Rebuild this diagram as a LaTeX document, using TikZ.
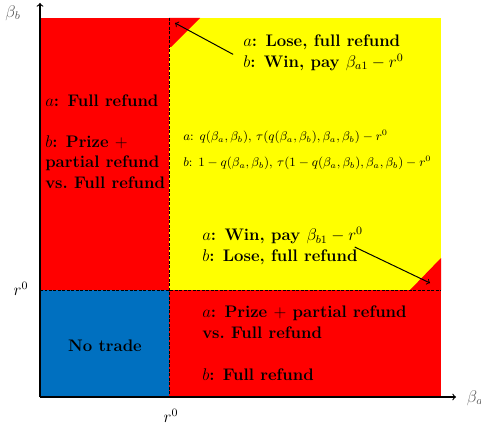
\documentclass[tikz,border=0pt]{standalone}
\usepackage{amsmath,amssymb}
\usepackage{xcolor}
\usepackage{tikz}
\usetikzlibrary{positioning,calc}
\definecolor{RegRed}{HTML}{FF0000}
\definecolor{RegYellow}{HTML}{FFFF00}
\definecolor{RegBlue}{HTML}{0070C0}

\begin{document}
\begin{tikzpicture}[x=0.025cm,y=-0.025cm,
    lbl/.style={font=\fontsize{11.9}{14.6}\selectfont\bfseries,align=left,anchor=west,inner sep=0pt},
    frm/.style={font=\fontsize{9}{18.5}\selectfont,align=left,anchor=west,inner sep=0pt},
    divider/.style={dashed,black,line width=0.4pt,dash pattern=on 2pt off 1.2pt}]
  \useasboundingbox (0,0) rectangle (481,427);
  \begin{scope}
    \fill[RegRed] (40,18) rectangle (169,290);
    \fill[RegYellow] (169,18) rectangle (441,290);
    \fill[RegRed] (169,18) -- (200,18) -- (171,47) -- (169,47) -- cycle;
    \fill[RegRed] (441,258) -- (441,290) -- (410,290) -- cycle;
    \fill[RegBlue] (40,290) rectangle (169,397);
    \fill[RegRed] (169,290) rectangle (441,397);
    \draw[divider] (169,18) -- (169,397);
    \draw[divider] (40,290) -- (441,290);
  \end{scope}
  \draw[->,line width=0.8pt] (40,397) -- (40,3);
  \draw[->,line width=0.8pt] (40,397) -- (456,397);
  \node[font=\large,gray!70!black] (yax) at (13,13) {$\beta_b$};
  \node[font=\large,gray!70!black,anchor=west] (xax) at (462,398) {$\beta_a$};
  \node[font=\large] (ry) at (21,289) {$r^0$};
  \node[font=\large] (rx) at (171,416) {$r^0$};
  \node[lbl] (fullA) at (45,101) {$a$: Full refund};
  \node[lbl] (prizeB) at (45,162) {$b$: Prize $+$\\partial refund\\vs.\ Full refund};
  \node[frm] (share) at (183,150) {$a$: $q(\beta_a,\beta_b)$, $\tau(q(\beta_a,\beta_b),\beta_a,\beta_b)-r^0$\\
    $b$: $1-q(\beta_a,\beta_b)$, $\tau(1-q(\beta_a,\beta_b),\beta_a,\beta_b)-r^0$};
  \node[lbl] (winB) at (243,53) {$a$: Lose, full refund\\$b$: Win, pay $\beta_{a1}-r^0$};
  \node[lbl] (winA) at (202,246) {$a$: Win, pay $\beta_{b1}-r^0$\\$b$: Lose, full refund};
  \node[lbl] (prizeA) at (202,322) {$a$: Prize $+$ partial refund\\vs.\ Full refund};
  \node[lbl] (fullB) at (202,375) {$b$: Full refund};
  \node[lbl,anchor=center] (notrade) at (105,346) {No trade};
  \coordinate (cornerA) at (175,23);
  \coordinate (cornerB) at (430,283);
  \draw[->,line width=0.7pt] ([xshift=-7pt,yshift=-1pt]winB.west) -- (cornerA);
  \draw[->,line width=0.7pt] ([xshift=-6pt]winA.east |- 0,247) -- (cornerB);
\end{tikzpicture}
\end{document}
